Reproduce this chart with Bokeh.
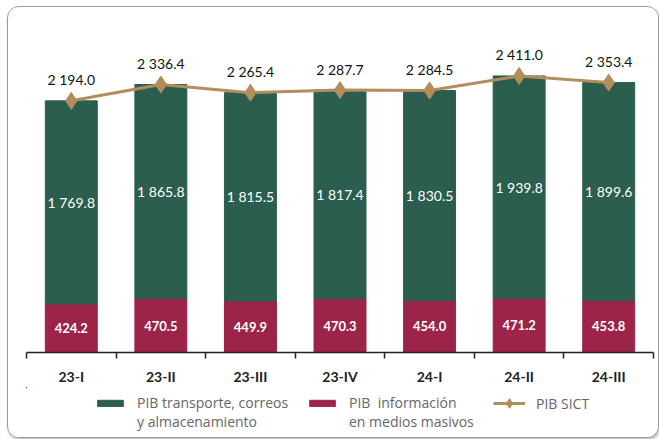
from bokeh.plotting import figure
from bokeh.layouts import column
from bokeh.models import ColumnDataSource, Range1d, FixedTicker, Legend, LegendItem, LabelSet
from bokeh.core.properties import value
from bokeh.embed import file_html
from bokeh.resources import INLINE

categories = ["23-I", "23-II", "23-III", "23-IV", "24-I", "24-II", "24-III"]
transporte = [1769.8, 1865.8, 1815.5, 1817.4, 1830.5, 1939.8, 1899.6]
informacion = [424.2, 470.5, 449.9, 470.3, 454.0, 471.2, 453.8]
total_sict = [2194.0, 2336.4, 2265.4, 2287.7, 2284.5, 2411.0, 2353.4]
legend_lines = [["PIB transporte, correos", "y almacenamiento"],
                ["PIB  información", "en medios masivos"],
                ["PIB SICT"]]

GREEN = "#2b5e4e"
MAROON = "#9b2448"
TAN = "#b38e5d"
FONT = "Lato"


def fmt(v):
    return f"{v:,.1f}".replace(",", " ")


x = list(range(len(categories)))
src = ColumnDataSource(dict(
    x=x,
    info=informacion,
    tot=total_sict,
    trans=transporte,
    green_mid=[i + t / 2 for i, t in zip(informacion, transporte)],
    info_mid=[i / 2 for i in informacion],
    info_lbl=[fmt(v) for v in informacion],
    trans_lbl=[fmt(v) for v in transporte],
    tot_lbl=[fmt(v) for v in total_sict],
))

W = 650
p = figure(width=W, height=380, output_backend="svg", toolbar_location=None,
           x_range=Range1d(-0.5, len(categories) - 0.5), y_range=Range1d(0, 2720),
           min_border_left=18, min_border_right=5, min_border_top=33, min_border_bottom=33)
p.outline_line_color = None
p.xgrid.visible = False
p.ygrid.visible = False
p.yaxis.visible = False

r_info = p.vbar(x="x", bottom=0, top="info", width=0.58, color=MAROON, source=src)
r_trans = p.vbar(x="x", bottom="info", top="tot", width=0.58, color=GREEN, source=src)
r_line = p.line(x="x", y="tot", line_color=TAN, line_width=3, source=src)
r_pts = p.scatter(x="x", y="tot", marker="diamond", size=17, color=TAN, source=src)

p.add_layout(LabelSet(x="x", y="info_mid", text="info_lbl", source=src, text_align="center",
                      text_baseline="middle", text_color="white", text_font=value(FONT),
                      text_font_size="13px", text_font_style="bold"))
p.add_layout(LabelSet(x="x", y="green_mid", text="trans_lbl", source=src, text_align="center",
                      text_baseline="middle", text_color="white", text_font=value(FONT),
                      text_font_size="14px"))
p.add_layout(LabelSet(x="x", y="tot", text="tot_lbl", source=src, text_align="center",
                      text_baseline="middle", y_offset=21, text_color="#111111",
                      text_font=value(FONT), text_font_size="14px"))

ax = p.xaxis[0]
ax.ticker = FixedTicker(ticks=x, minor_ticks=[i - 0.5 for i in range(len(categories) + 1)])
ax.major_label_overrides = {i: c for i, c in enumerate(categories)}
ax.major_tick_line_color = None
ax.minor_tick_in = 0
ax.minor_tick_out = 6
ax.minor_tick_line_color = "#222222"
ax.minor_tick_line_width = 1.5
ax.axis_line_color = "#222222"
ax.axis_line_width = 1.5
ax.major_label_text_font = FONT
ax.major_label_text_font_style = "bold"
ax.major_label_text_font_size = "14px"
ax.major_label_text_color = "#222222"
ax.major_label_standoff = 9

# legend strip: same series drawn outside its visible range, used only for swatches
lg = figure(width=W, height=50, output_backend="svg", toolbar_location=None,
            x_range=Range1d(100, 101), y_range=Range1d(-101, -100),
            min_border_left=0, min_border_right=0, min_border_top=0, min_border_bottom=0)
lg.outline_line_color = None
lg.xgrid.visible = False
lg.ygrid.visible = False
lg.xaxis.visible = False
lg.yaxis.visible = False
g_trans = lg.vbar(x="x", bottom="info", top="tot", width=0.58, color=GREEN, source=src)
g_info = lg.vbar(x="x", bottom=0, top="info", width=0.58, color=MAROON, source=src)
g_line = lg.line(x="x", y="tot", line_color=TAN, line_width=3, source=src)
g_pts = lg.scatter(x="x", y="tot", marker="diamond", size=11, color=TAN, source=src)
g_blank = lg.vbar(x="x", top="tot", width=0.58, fill_alpha=0, line_alpha=0, source=src)

swatches = [[g_trans], [g_info], [g_line, g_pts]]
anchors = [(68, 6), (280, 6), (467, 22)]
glyph_heights = [8, 8, 24]
for lines, rends, loc, gh in zip(legend_lines, swatches, anchors, glyph_heights):
    items = [LegendItem(label=lines[0], renderers=rends)]
    items += [LegendItem(label=t, renderers=[g_blank]) for t in lines[1:]]
    leg = Legend(items=items, orientation="vertical", location=loc, border_line_color=None,
                 background_fill_alpha=0, label_text_font="Open Sans",
                 label_text_font_size="14px", label_text_color="#666666",
                 glyph_width=32, glyph_height=gh, label_height=19, spacing=0,
                 padding=0, margin=0, label_standoff=11)
    lg.add_layout(leg, "center")

layout = column(p, lg, spacing=0)
layout.styles = {"border": "1px solid #9a9a9a", "border-radius": "12px",
                 "box-shadow": "1px 2px 3px #bbbbbb", "margin": "6px 0 0 7px",
                 "overflow": "hidden", "background": "white"}

open("out.html", "w").write(file_html(layout, INLINE))
